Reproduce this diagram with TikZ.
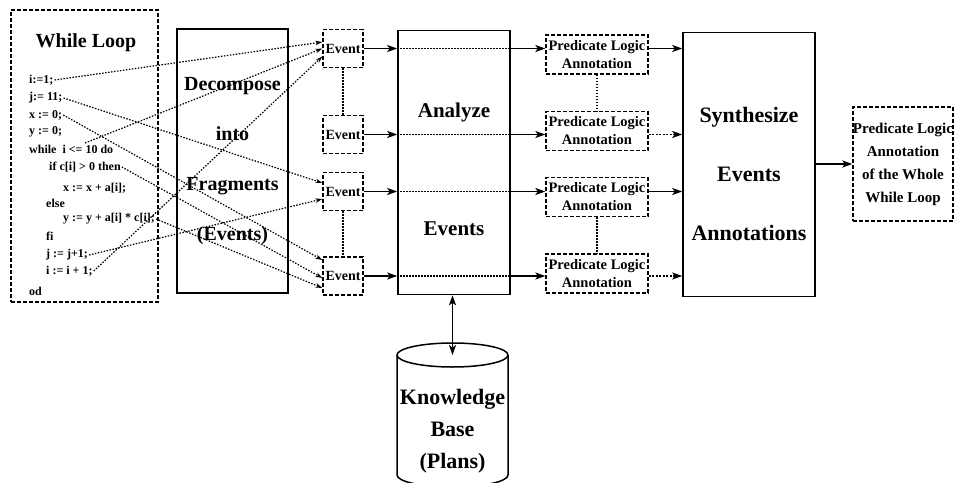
\documentclass[tikz,border=0pt]{standalone}
\usepackage{fontspec}
\setmainfont{Liberation Serif}
\usepackage{tikz}
\usetikzlibrary{arrows.meta}

\begin{document}
\begin{tikzpicture}[x=1pt, y=-1pt, >={Stealth[length=10pt, width=7pt, inset=2.5pt]}, font=\bfseries,
  proc/.style={draw, line width=1.6pt, minimum width=111, minimum height=264, align=center, font=\fontsize{20}{24}\selectfont\bfseries},
  frag/.style={draw, dashed, line width=1.3pt, dash pattern=on 4pt off 2pt, minimum width=40, minimum height=38, inner sep=0pt, font=\fontsize{14}{16}\selectfont\bfseries},
  annot/.style={frag, minimum width=102, minimum height=39, align=center, font=\fontsize{14.5}{18}\selectfont\bfseries},
  code/.style={anchor=west, inner sep=1pt, font=\fontsize{12}{14}\selectfont\bfseries},
  link/.style={-{Stealth[length=7pt, width=4.5pt]}, line width=1.2pt, dash pattern=on 1.5pt off 1.5pt},
  flow/.style={->, line width=1.5pt}]
  \useasboundingbox (0,0) rectangle (955,482);

  % the loop and its lines
  \node[frag, minimum width=147, minimum height=292] (loop) at (84.5,156) {};
  \node[font=\fontsize{20}{24}\selectfont\bfseries] (title) at (86,43) {While Loop};
  \node[code] (c1)  at (28,80)  {i:=1;};
  \node[code] (c2)  at (28,98)  {j:= 11;};
  \node[code] (c3)  at (28,115) {x := 0;};
  \node[code] (c4)  at (28,132) {y := 0;};
  \node[code] (c5)  at (28,149) {while\ \ i <= 10 do};
  \node[code] (c6)  at (48,167) {if c[i] > 0 then};
  \node[code] (c7)  at (62,188) {x := x + a[i];};
  \node[code] (c8)  at (45,203) {else};
  \node[code] (c9)  at (62,219) {y := y + a[i] * c[i];};
  \node[code] (c10) at (45,236) {fi};
  \node[code] (c11) at (45,255) {j := j+1;};
  \node[code] (c12) at (45,271) {i := i + 1;};
  \node[code] (c13) at (28,291) {od};
  \coordinate (w1) at (85,143);

  % boxes
  \node[proc]                    (dec)  at (232.5,161) {Decompose\\[26pt]into\\[26pt]Fragments\\[26pt](Events)};
  \node[frag]                    (ev1)  at (343,48.5)  {Event};
  \node[frag]                    (ev2)  at (343,134.5) {Event};
  \node[frag]                    (ev3)  at (343,191.5) {Event};
  \node[frag]                    (ev4)  at (343,276)   {Event};
  \node[proc, minimum width=112, font=\fontsize{21}{25}\selectfont\bfseries]
                                 (ana)  at (454,162.5) {\rule{0pt}{29pt}Analyze\\[93pt]Events};
  \node[annot]                   (pla1) at (597,54.5)  {Predicate Logic\\Annotation};
  \node[annot]                   (pla2) at (597,131)   {Predicate Logic\\Annotation};
  \node[annot]                   (pla3) at (597,197)   {Predicate Logic\\Annotation};
  \node[annot]                   (pla4) at (597,273.5) {Predicate Logic\\Annotation};
  \node[proc, minimum width=132, font=\fontsize{22}{26}\selectfont\bfseries]
                                 (syn)  at (749,164.5) {\rule{0pt}{35pt}Synthesize\\[33pt]Events\\[33pt]Annotations};
  \node[annot, minimum width=100, minimum height=114, font=\fontsize{15}{23}\selectfont\bfseries]
                                 (fin)  at (903,164)   {Predicate Logic\\Annotation\\of the Whole\\While Loop};

  % knowledge base
  \coordinate (kbtop) at (452.5,355);
  \draw[line width=1.5pt] (kbtop) ellipse [x radius=55.5pt, y radius=12pt];
  \draw[line width=1.5pt] ([xshift=-55.5pt]kbtop) -- ++(0,120)
    arc [start angle=180, end angle=360, x radius=55.5pt, y radius=12pt] -- ([xshift=55.5pt]kbtop);
  \node[align=center, font=\fontsize{22}{32}\selectfont\bfseries] (kb) at (452.5,431) {Knowledge\\Base\\(Plans)};

  % lines to events
  \path[link]
        (c1.east)   edge ([yshift=6.5pt]ev1.west)
        (w1)        edge (ev1.west)
        (c12.east)  edge ([yshift=-8pt]ev1.west)
        (c2.east)   edge ([yshift=8.5pt]ev3.west)
        (c11.east)  edge ([yshift=-7.5pt]ev3.west)
        (c3.east)   edge ([yshift=16pt]ev4.west)
        (c6.east)   edge ([yshift=-2pt]ev4.west)
        (c9.east)   edge ([yshift=-12pt]ev4.west);

  \path[line width=1.2pt, dash pattern=on 1.5pt off 1.5pt]
        (ev1) edge (ev2)
        (ev3) edge (ev4)
        (pla1) edge (pla2)
        (pla3) edge (pla4)
        (ev1 -| ana.west) edge (ev1 -| ana.east)
        (ev2 -| ana.west) edge (ev2 -| ana.east)
        (ev3 -| ana.west) edge (ev3 -| ana.east)
        (ev4 -| ana.west) edge (ev4 -| ana.east);

  \path[flow]
        (ev1) edge (ev1 -| ana.west)
        (ev2) edge (ev2 -| ana.west)
        (ev3) edge (ev3 -| ana.west)
        (ev4) edge (ev4 -| ana.west)
        (ev1 -| ana.east) edge (ev1 -| pla1.west)
        (ev2 -| ana.east) edge (ev2 -| pla2.west)
        (ev3 -| ana.east) edge (ev3 -| pla3.west)
        (ev4 -| ana.east) edge (ev4 -| pla4.west)
        (ev1 -| pla1.east) edge (ev1 -| syn.west)
        (ev2 -| pla2.east) edge [dash pattern=on 2pt off 1.5pt] (ev2 -| syn.west)
        (ev3 -| pla3.east) edge (ev3 -| syn.west)
        (ev4 -| pla4.east) edge [dash pattern=on 2pt off 1.5pt] (ev4 -| syn.west)
        (fin -| syn.east) edge (fin);

  \draw[<->, line width=1.5pt] (kbtop |- ana.south) -- (kbtop);

\end{tikzpicture}
\end{document}
